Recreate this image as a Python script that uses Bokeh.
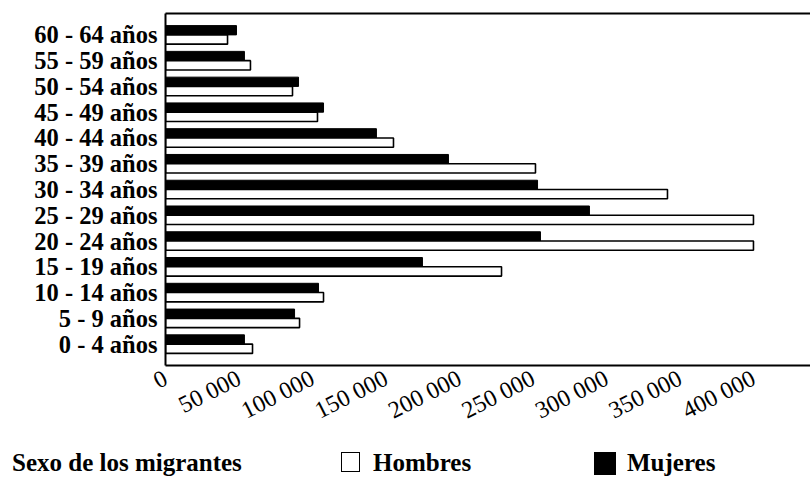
import math
from bokeh.plotting import figure
from bokeh.layouts import column
from bokeh.models import (ColumnDataSource, FactorRange, Range1d, FixedTicker,
                          LinearAxis, Div)
from bokeh.transform import dodge
from bokeh.embed import file_html
from bokeh.resources import INLINE

# ---- data ----
age_groups = ["0 - 4 años", "5 - 9 años", "10 - 14 años", "15 - 19 años",
              "20 - 24 años", "25 - 29 años", "30 - 34 años", "35 - 39 años",
              "40 - 44 años", "45 - 49 años", "50 - 54 años", "55 - 59 años",
              "60 - 64 años"]
hombres = [59200, 91200, 107500, 228600, 400000, 400000, 341500, 251700,
           155100, 103400, 86400, 57800, 42200]
mujeres = [53700, 87800, 104100, 174800, 255100, 288400, 253100, 192500,
           143500, 107500, 90500, 53700, 48300]
tick_values = [0, 50000, 100000, 150000, 200000, 250000, 300000, 350000, 400000]
tick_labels = ["0", "50 000", "100 000", "150 000", "200 000", "250 000",
               "300 000", "350 000", "400 000"]
legend_title = "Sexo de los migrantes"
series_names = ["Hombres", "Mujeres"]

SERIF = "Liberation Serif"
HOMBRES_STYLE = dict(fill_color="white", line_color="black", line_width=1.6)
MUJERES_STYLE = dict(fill_color="black", line_color="black", line_width=1)

source = ColumnDataSource(dict(age=age_groups, hombres=hombres, mujeres=mujeres))

p = figure(width=810, height=440,
           y_range=FactorRange(*age_groups, range_padding=0.33,
                               range_padding_units="absolute"),
           x_range=Range1d(0, 438800),
           output_backend="svg", toolbar_location=None,
           min_border_left=165, min_border_right=0,
           min_border_top=13, min_border_bottom=75)

rm = p.hbar(y=dodge("age", 0.18, range=p.y_range), right="mujeres", height=0.36,
            source=source, **MUJERES_STYLE)
rh = p.hbar(y=dodge("age", -0.18, range=p.y_range), right="hombres", height=0.36,
            source=source, **HOMBRES_STYLE)

p.xgrid.grid_line_color = None
p.ygrid.grid_line_color = None
p.outline_line_color = None

xa = p.xaxis[0]
xa.ticker = FixedTicker(ticks=tick_values)
xa.major_label_overrides = {v: l for v, l in zip(tick_values, tick_labels)}
xa.major_label_orientation = 0.47
xa.major_label_text_font = SERIF
xa.major_label_text_font_size = "24px"
xa.major_label_text_color = "black"
xa.major_label_standoff = 11
xa.major_tick_line_color = None
xa.major_tick_out = 0
xa.minor_tick_line_color = None
xa.axis_line_width = 2
xa.axis_line_color = "black"

ya = p.yaxis[0]
ya.major_label_text_font = SERIF
ya.major_label_text_font_style = "bold"
ya.major_label_text_font_size = "24.5px"
ya.major_label_text_color = "black"
ya.major_label_standoff = 8
ya.major_tick_line_color = None
ya.major_tick_out = 0
ya.minor_tick_line_color = None
ya.axis_line_width = 2
ya.axis_line_color = "black"

top = LinearAxis(ticker=FixedTicker(ticks=[]), axis_line_width=2,
                 axis_line_color="black", major_tick_line_color=None,
                 minor_tick_line_color=None, major_label_standoff=0)
p.add_layout(top, "above")

# ---- legend row (heading + keys for the two series) ----
text_css = "position:absolute;top:9px;white-space:nowrap;"
legend_html = (
    "<div style=\"position:relative;width:810px;height:40px;"
    "font-family:'Liberation Serif';font-weight:bold;font-size:25px;"
    "line-height:28px;color:black;\">"
    f"<span style=\"{text_css}left:12px;\">{legend_title}</span>"
    "<span style=\"position:absolute;left:341px;top:12px;width:19px;height:20px;"
    "border:1.6px solid black;background:white;\"></span>"
    f"<span style=\"{text_css}left:373px;\">{series_names[0]}</span>"
    "<span style=\"position:absolute;left:594px;top:12px;width:22px;height:23px;"
    "background:black;\"></span>"
    f"<span style=\"{text_css}left:627px;\">{series_names[1]}</span>"
    "</div>"
)
legend_div = Div(text=legend_html, width=810, height=40, margin=0)

open("out.html", "w").write(file_html(column(p, legend_div), INLINE))
